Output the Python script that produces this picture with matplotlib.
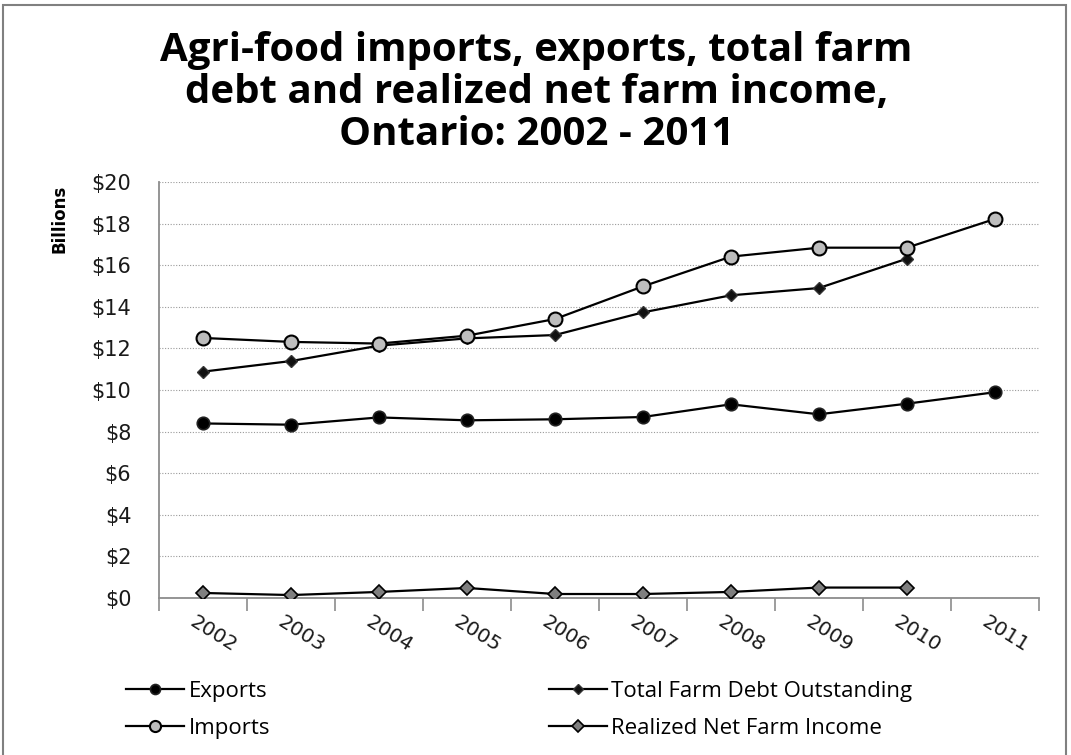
import matplotlib
matplotlib.use("Agg")
import matplotlib.pyplot as plt
from matplotlib.patches import Rectangle

years = ["2002", "2003", "2004", "2005", "2006", "2007", "2008", "2009", "2010", "2011"]
exports = [8.39, 8.33, 8.68, 8.54, 8.59, 8.70, 9.31, 8.83, 9.34, 9.89]
imports = [12.50, 12.31, 12.23, 12.61, 13.41, 14.98, 16.41, 16.84, 16.84, 18.22]
farm_debt = [10.88, 11.39, 12.13, 12.48, 12.64, 13.73, 14.55, 14.90, 16.31]
net_income = [0.24, 0.14, 0.29, 0.48, 0.19, 0.19, 0.29, 0.50, 0.50]
y_ticks = [0, 2, 4, 6, 8, 10, 12, 14, 16, 18, 20]

fig = plt.figure(figsize=(10.71, 7.55), dpi=100)
fig.patch.set_facecolor("white")
fig.add_artist(Rectangle((0.003, -0.01), 0.992, 1.004, transform=fig.transFigure,
                         fill=False, edgecolor="#808080", linewidth=1.5))

ax = fig.add_axes([0.1485, 0.208, 0.8215, 0.551])
x = list(range(len(years)))

h_exp, = ax.plot(x, exports, color="black", lw=1.6, marker="o", ms=9,
                 mfc="black", mec="#222222", mew=1.2, zorder=3, label="Exports")
h_imp, = ax.plot(x, imports, color="black", lw=1.6, marker="o", ms=10,
                 mfc="#bdbdbd", mec="black", mew=1.5, zorder=4, label="Imports")
h_debt, = ax.plot(x[:len(farm_debt)], farm_debt, color="black", lw=1.6, marker="D",
                  ms=6.5, mfc="#111111", mec="#333333", mew=1.0, zorder=3,
                  label="Total Farm Debt Outstanding")
h_inc, = ax.plot(x[:len(net_income)], net_income, color="black", lw=1.6, marker="D",
                 ms=7.5, mfc="#7f7f7f", mec="black", mew=1.2, zorder=3,
                 label="Realized Net Farm Income")

ax.set_xlim(-0.5, len(years) - 0.5)
ax.set_ylim(0, 20)
ax.set_yticks(y_ticks)
ax.set_yticklabels([f"${v}" for v in y_ticks], fontsize=15, family="DejaVu Sans",
                   color="#1a1a1a")
ax.tick_params(axis="y", length=0, pad=20)
ax.yaxis.grid(True, linestyle=(0, (1, 1.5)), color="#9a9a9a", linewidth=0.8)
ax.set_axisbelow(True)

ax.set_xticks([i - 0.5 for i in range(len(years) + 1)])
ax.set_xticklabels([])
ax.tick_params(axis="x", length=9, width=1.2, color="#8c8c8c", direction="out")
for i, yr in enumerate(years):
    ax.text(i - 0.07, -0.7, yr, rotation=-32, ha="left", va="top",
            rotation_mode="anchor", fontsize=14.5, family="DejaVu Sans",
            color="#1a1a1a", transform=ax.transData, clip_on=False)

for side in ("top", "right"):
    ax.spines[side].set_visible(False)
for side in ("left", "bottom"):
    ax.spines[side].set_color("#8c8c8c")
    ax.spines[side].set_linewidth(1.3)

fig.text(0.056, 0.71, "Billions", rotation=90, ha="center", va="center",
         fontsize=12, fontweight="bold", family="Liberation Sans Narrow")

fig.text(0.501, 0.878,
         "Agri-food imports, exports, total farm\n"
         "debt and realized net farm income,\n"
         "Ontario: 2002 - 2011",
         ha="center", va="center", fontsize=29, fontweight="bold",
         family="Open Sans", linespacing=1.1)

legend_style = dict(loc="upper left", frameon=False, borderpad=0, borderaxespad=0,
                    prop={"family": "Open Sans", "size": 16},
                    handlelength=2.6, handletextpad=0.2,
                    labelspacing=0.72, markerscale=0.8)
leg_left = fig.legend([h_exp, h_imp], ["Exports", "Imports"],
                      bbox_to_anchor=(0.118, 0.098), **legend_style)
leg_right = fig.legend([h_debt, h_inc], ["Total Farm Debt Outstanding",
                                         "Realized Net Farm Income"],
                       bbox_to_anchor=(0.5125, 0.098), **legend_style)

fig.savefig("out.png", dpi=100, facecolor="white")
